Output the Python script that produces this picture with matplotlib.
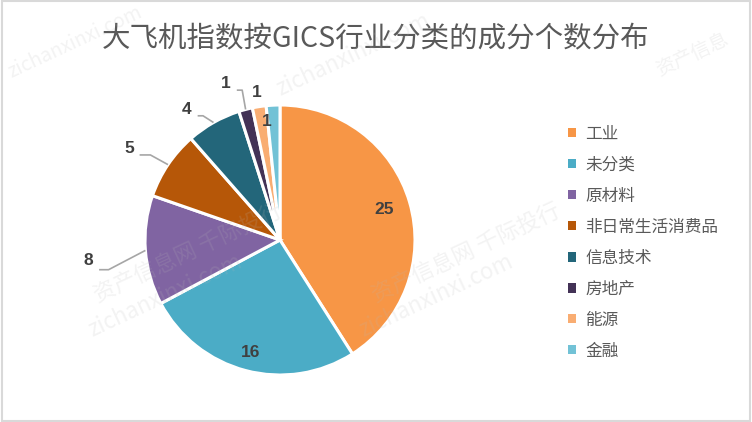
import numpy as np
import matplotlib
matplotlib.use("Agg")
import matplotlib.pyplot as plt
from matplotlib.patches import Patch, Rectangle

plt.rcParams['font.family'] = ['Noto Sans CJK SC', 'DejaVu Sans']

# data
categories = ["工业", "未分类", "原材料", "非日常生活消费品", "信息技术", "房地产", "能源", "金融"]
counts = [25, 16, 8, 5, 4, 1, 1, 1]
colors = ["#F79646", "#4BACC6", "#8064A2", "#B65708", "#23667A", "#433256", "#F9AD72", "#72C2D6"]
title = "大飞机指数按GICS行业分类的成分个数分布"

fig = plt.figure(figsize=(7.52, 4.22), dpi=100)
fig.patch.set_facecolor("white")
fig.patches.append(Rectangle((0.002, 0.003), 0.996, 0.994, transform=fig.transFigure,
                             fill=False, edgecolor="#D9D9D9", linewidth=1.5))

# pie centred at (280, 240) px with radius ~135 px
ax = fig.add_axes([145 / 752, 47 / 422, 270 / 752, 270 / 422])
wedges, _ = ax.pie(counts, colors=colors, startangle=90, counterclock=False,
                   radius=1.0, wedgeprops=dict(edgecolor="white", linewidth=2.2))
ax.set_xlim(-1, 1)
ax.set_ylim(-1, 1)
ax.set_aspect("equal")
ax.axis("off")

lab_col = "#404040"
line_col = "#A6A6A6"
lab_font = dict(fontsize=12.5, color=lab_col, family="Liberation Sans", fontweight="bold")

def mid_angle(w):
    return np.deg2rad((w.theta1 + w.theta2) / 2)

# inside labels
for i, r in [(0, 0.80), (1, 0.86), (7, 0.88)]:
    a = mid_angle(wedges[i])
    ax.text(r * np.cos(a) + (0.0 if i != 7 else -0.05), r * np.sin(a), str(counts[i]),
            ha="center", va="center", **lab_font)

# outside labels with leader lines: text pos, elbow x
outside = {
    2: ((-1.42, -0.17), -1.27),
    3: ((-1.12, 0.66), -0.96),
    4: ((-0.69, 0.95), -0.57),
    5: ((-0.40, 1.14), -0.28),
}
for i, ((tx, ty), ex) in outside.items():
    a = mid_angle(wedges[i])
    px, py = 1.0 * np.cos(a), 1.0 * np.sin(a)
    ly = ty - 0.05 if i == 2 else ty - 0.03
    ax.plot([tx + 0.08, ex, px], [ly, ly, py], color=line_col, lw=1.2,
            clip_on=False, solid_capstyle="butt")
    ax.text(tx, ty + 0.02, str(counts[i]), ha="center", va="center", **lab_font)
# energy label, no line
ax.text(-0.17, 1.09, str(counts[6]), ha="center", va="center", **lab_font)

# title
fig.text(0.5, 1 - 38 / 422, title, ha="center", va="center", fontsize=20.5,
         color="#595959")

# legend
handles = [Patch(facecolor=c, edgecolor="none") for c in colors]
leg = fig.legend(handles, categories, loc="upper left", bbox_to_anchor=(561 / 752, 1 - 119 / 422),
                 frameon=False, fontsize=12, handlelength=0.5, handleheight=0.5,
                 handletextpad=0.55, labelspacing=0.84, borderaxespad=0)
for t in leg.get_texts():
    t.set_color("#595959")

# faint watermarks
wm = dict(color="#B8B8B8", alpha=0.17, rotation=25, ha="center", va="center", zorder=10)
fig.text(0.10, 0.90, "zichanxinxi.com", fontsize=14, **wm)
fig.text(0.47, 0.87, "zichanxinxi.com", fontsize=16, **wm)
fig.text(0.92, 0.87, "资产信息", fontsize=14, **wm)
fig.text(0.25, 0.40, "资产信息网 千际投行", fontsize=16, **wm)
fig.text(0.22, 0.30, "zichanxinxi.com", fontsize=16, **wm)
fig.text(0.62, 0.40, "资产信息网 千际投行", fontsize=16, **wm)
fig.text(0.58, 0.30, "zichanxinxi.com", fontsize=16, **wm)

fig.savefig("out.png", dpi=100)
